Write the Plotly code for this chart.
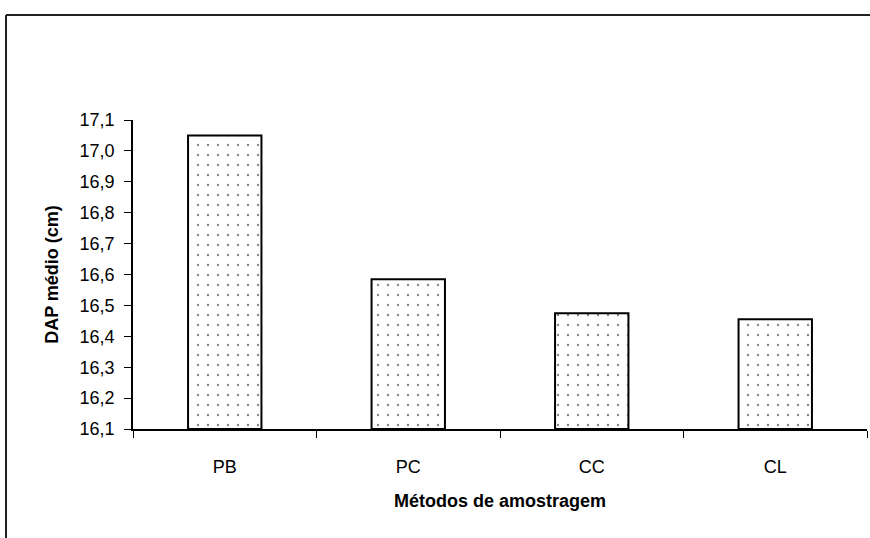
import plotly.graph_objects as go

# Mean DBH per sampling method
metodos = ["PB", "PC", "CC", "CL"]
dap_medio = [17.05, 16.585, 16.475, 16.455]

y_ticks = [16.1, 16.2, 16.3, 16.4, 16.5, 16.6, 16.7, 16.8, 16.9, 17.0, 17.1]
y_floor = y_ticks[0]

FONT = "Liberation Sans, Arial, sans-serif"

# bars start at the axis floor: base + height = mean value
fig = go.Figure(
    go.Bar(
        x=metodos,
        y=[v - y_floor for v in dap_medio],
        base=y_floor,
        width=0.4,
        customdata=dap_medio,
        hovertemplate="%{x}: %{customdata:.3f}<extra></extra>",
        marker=dict(
            color="white",
            line=dict(color="black", width=2),
            pattern=dict(shape=".", fgcolor="#111111", bgcolor="white",
                         size=10, solidity=0.045),
        ),
    )
)

fig.update_layout(
    width=870,
    height=538,
    margin=dict(l=133, r=3, t=120, b=109),
    paper_bgcolor="white",
    plot_bgcolor="white",
    separators=",.",
    showlegend=False,
    font=dict(family=FONT, color="black", size=18),
)

fig.update_xaxes(
    showline=True, linecolor="black", linewidth=1.5,
    ticks="outside", tickson="boundaries", ticklen=7, tickcolor="black",
    tickfont=dict(size=18), ticklabelstandoff=21,
    showgrid=False, zeroline=False,
    title=dict(text="<b>Métodos de amostragem</b>",
               font=dict(size=18), standoff=18),
)

fig.update_yaxes(
    range=[16.1, 17.1],
    tickvals=y_ticks, tickformat=".1f",
    showline=True, linecolor="black", linewidth=1.5,
    ticks="outside", ticklen=7, tickcolor="black",
    tickfont=dict(size=18), ticklabelstandoff=6,
    showgrid=False, zeroline=False,
    title=dict(text="<b>DAP médio (cm)</b>", font=dict(size=18), standoff=16),
)

# outer chart frame (left and top edges visible in the window)
fig.add_shape(type="line", xref="paper", yref="paper",
              x0=-0.173, x1=-0.173, y0=-0.45, y1=1.34,
              line=dict(color="#222222", width=2))
fig.add_shape(type="line", xref="paper", yref="paper",
              x0=-0.173, x1=1.05, y0=1.34, y1=1.34,
              line=dict(color="#222222", width=2))

fig.write_html("out.html")
